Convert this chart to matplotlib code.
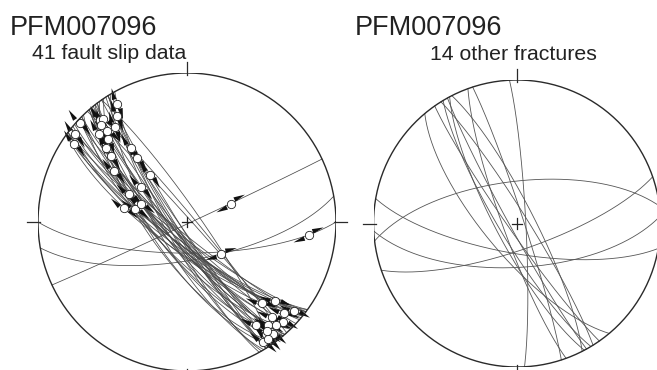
import numpy as np
import matplotlib.pyplot as plt

plt.rcParams['font.family'] = ['Liberation Sans', 'DejaVu Sans']

# left net: 41 fault planes (strike, dip with right-hand rule) and rake of the striae
fault_strike = [151, 150, 141, 143, 149, 133, 129, 127, 146, 139, 142, 148, 140, 148, 135,
                148, 130, 140, 126, 126, 127,
                127, 129, 131, 129, 134, 135, 139, 140, 143, 142, 147, 145,
                320, 325, 318, 144, 136,
                65, 90, 80]
fault_dip = [80, 78, 82, 76, 74, 83, 78, 76, 70, 78, 72, 83, 76, 84, 78,
             86, 80, 82, 74, 78, 82,
             78, 74, 80, 84, 76, 82, 78, 72, 80, 84, 82, 86,
             86, 83, 88, 69, 72,
             89, 73, 69]
fault_rake = [171, 164, 169, 162, 158, 178, 175, 171, 154, 162, 151, 142, 146, 135, 139,
              123, 124, 121, 122, 117, 116,
              22, 28, 12, 7, 16, 8, 13, 19, 9, 6, 5, 5,
              12, 170, 20, 165, 10,
              64, 20, 75]

# right net: 14 other fractures
frac_strike = [263, 100, 87, 71, 357, 160, 342, 149, 328, 151, 333, 140, 145, 152]
frac_dip = [66, 73, 65, 75, 85, 82, 86, 80, 84, 86, 80, 72, 85, 78]


def plane_xy(strike, dip, t):
    # equal-area, lower hemisphere; t = angle in the plane from strike (deg)
    s = np.radians(strike)
    d = np.radians(dip)
    t = np.radians(np.atleast_1d(t))
    e = np.cos(t) * np.sin(s) + np.sin(t) * np.cos(d) * np.cos(s)
    n = np.cos(t) * np.cos(s) - np.sin(t) * np.cos(d) * np.sin(s)
    z = -np.sin(t) * np.sin(d)
    plunge = np.arcsin(np.clip(-z, -1, 1))
    trend = np.arctan2(e, n)
    r = np.sqrt(2) * np.sin((np.pi / 2 - plunge) / 2)
    return r * np.sin(trend), r * np.cos(trend)


def draw_net(ax):
    a = np.linspace(0, 2 * np.pi, 400)
    ax.plot(np.cos(a), np.sin(a), color='#2a2a2a', lw=1.0, zorder=6)
    for dx, dy in [(0, 1), (0, -1), (1, 0), (-1, 0)]:
        ax.plot([dx * 0.985, dx * 1.075], [dy * 0.985, dy * 1.075], color='#2a2a2a', lw=0.9, clip_on=False)
    c = 0.035
    ax.plot([-c, c], [0, 0], color='#222', lw=0.9, zorder=7)
    ax.plot([0, 0], [-c, c], color='#222', lw=0.9, zorder=7)
    ax.set_xlim(-1, 1)
    ax.set_ylim(-1, 1)
    ax.axis('off')


def shear_arrows(ax, strike, dip, rake):
    x0, y0 = plane_xy(strike, dip, rake)
    x1, y1 = plane_xy(strike, dip, rake + 0.5)
    p0 = np.array([x0[0], y0[0]])
    u = np.array([x1[0] - x0[0], y1[0] - y0[0]])
    u = u / np.hypot(*u)
    nv = np.array([-u[1], u[0]])
    gap, L, hw, off = 0.034, 0.078, 0.016, 0.013
    for sg in (1, -1):
        base = p0 + sg * u * gap + sg * nv * off
        tip = base + sg * u * L
        tri = np.array([tip, base + nv * hw, base - nv * hw])
        ax.fill(tri[:, 0], tri[:, 1], color='#111', lw=0, zorder=4, clip_on=False)
    ax.plot(p0[0], p0[1], 'o', ms=6.0, mfc='white', mec='#222', mew=0.6, zorder=5, clip_on=False)


fig = plt.figure(figsize=(6.57, 3.70), dpi=100)

ax1 = fig.add_axes([38 / 657, (370 - 371) / 370, 298 / 657, 298 / 370])
draw_net(ax1)
tt = np.linspace(0, 180, 361)
for s, d in zip(fault_strike, fault_dip):
    x, y = plane_xy(s, d, tt)
    ax1.plot(x, y, color='#4a4a4a', lw=0.55, zorder=2)
for s, d, r in zip(fault_strike, fault_dip, fault_rake):
    shear_arrows(ax1, s, d, r)

ax2 = fig.add_axes([373.5 / 657, (370 - 367) / 370, 287 / 657, 287 / 370])
draw_net(ax2)
for s, d in zip(frac_strike, frac_dip):
    x, y = plane_xy(s, d, tt)
    ax2.plot(x, y, color='#555555', lw=0.6, zorder=2)

fig.text(10 / 657, 1 - 35 / 370, 'PFM007096', fontsize=19.5, color='#222', va='baseline')
fig.text(32 / 657, 1 - 59 / 370, '41 fault slip data', fontsize=15.3, color='#222', va='baseline')
fig.text(355 / 657, 1 - 35 / 370, 'PFM007096', fontsize=19.5, color='#222', va='baseline')
fig.text(430 / 657, 1 - 60 / 370, '14 other fractures', fontsize=15.3, color='#222', va='baseline')

fig.savefig('out.png', dpi=100)
